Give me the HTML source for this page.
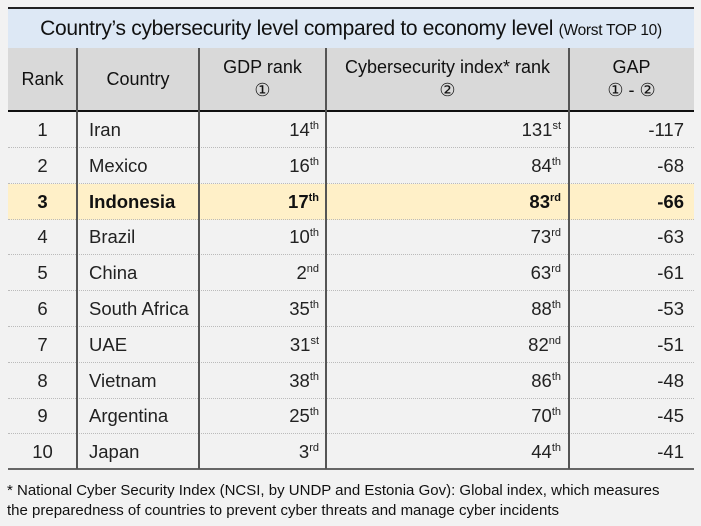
<!DOCTYPE html>
<html><head><meta charset="utf-8"><style>
body{margin:0;width:701px;height:526px;background:#f2f2f2;font-family:"Liberation Sans","DejaVu Sans",sans-serif;color:#111;position:relative;overflow:hidden}
.a{position:absolute}
.title{left:8px;top:7px;width:686px;height:39px;background:#dde8f5;border-top:2px solid #222;font-size:21px;text-align:center;line-height:39px;letter-spacing:-0.3px}
.title small{font-size:15.5px}
.head{left:8px;top:48px;width:686px;height:62px;background:#d9d9d9;border-bottom:2px solid #111}
.hc{position:absolute;top:0;height:62px;display:flex;flex-direction:column;justify-content:center;align-items:center;font-size:18px;line-height:23px;text-align:center}
.row{position:absolute;left:8px;width:686px;height:35px;border-bottom:1px dotted #bbb;font-size:18.5px;color:#222}
.row.hl{background:#fff0c8;font-weight:bold;color:#111}
.c{position:absolute;top:0;height:35px;line-height:35px;white-space:nowrap}
sup{font-size:11px;vertical-align:7px;line-height:0}
.vl{position:absolute;top:48px;width:2px;height:421px;background:#555}
.foot{left:7px;top:481px;font-size:15px;line-height:20px}
</style></head><body>
<div class="a title">Country’s cybersecurity level compared to economy level <small>(Worst TOP 10)</small></div>
<div class="a head">
<div class="hc" style="left:0;width:69px">Rank</div>
<div class="hc" style="left:69px;width:122px">Country</div>
<div class="hc" style="left:191px;width:127px"><span>GDP rank</span><span>①</span></div>
<div class="hc" style="left:318px;width:243px"><span>Cybersecurity index* rank</span><span>②</span></div>
<div class="hc" style="left:561px;width:125px"><span>GAP</span><span>① - ②</span></div>
</div>
<div id="rows"></div>
<div class="a" style="left:8px;top:468px;width:686px;height:2px;background:#666"></div>
<div class="vl" style="left:76px"></div>
<div class="vl" style="left:198px"></div>
<div class="vl" style="left:325px"></div>
<div class="vl" style="left:568px"></div>
<div class="a foot">* National Cyber Security Index (NCSI, by UNDP and Estonia Gov): Global index, which measures<br>the preparedness of countries to prevent cyber threats and manage cyber incidents</div>
<script>
const countries=["Iran","Mexico","Indonesia","Brazil","China","South Africa","UAE","Vietnam","Argentina","Japan"];
const gdpRank=[14,16,17,10,2,35,31,38,25,3];
const cyberRank=[131,84,83,73,63,88,82,86,70,44];
const highlightIndex=2;
function suf(n){const t=n%100;if(t>=11&&t<=13)return"th";return["th","st","nd","rd"][n%10]||"th";}
const host=document.getElementById('rows');
countries.forEach((c,i)=>{
 const r=document.createElement('div');
 r.className='row'+(i===highlightIndex?' hl':'');
 r.style.top=(112+i*35.8)+'px';
 
 
 const g=gdpRank[i],y=cyberRank[i];
 r.innerHTML=
 '<div class="c" style="left:0;width:69px;text-align:center">'+(i+1)+'</div>'+
 '<div class="c" style="left:81px">'+c+'</div>'+
 '<div class="c" style="left:191px;width:120px;text-align:right">'+g+'<sup>'+suf(g)+'</sup></div>'+
 '<div class="c" style="left:318px;width:235px;text-align:right">'+y+'<sup>'+suf(y)+'</sup></div>'+
 '<div class="c" style="left:561px;width:115px;text-align:right">'+(g-y)+'</div>';
 host.appendChild(r);
});
</script>
</body></html>
